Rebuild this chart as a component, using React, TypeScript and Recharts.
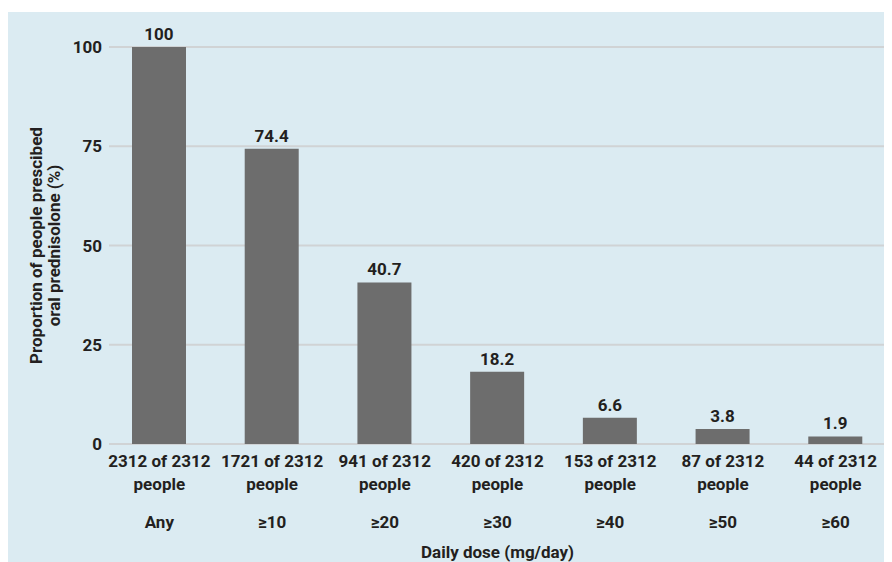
import React from 'react';
import { BarChart, Bar, XAxis, YAxis, CartesianGrid, LabelList, Label } from 'recharts';

const doses = ['Any', '≥10', '≥20', '≥30', '≥40', '≥50', '≥60'];
const counts = [2312, 1721, 941, 420, 153, 87, 44];
const totalPeople = 2312;
const percents = [100, 74.4, 40.7, 18.2, 6.6, 3.8, 1.9];
const yTicks = [0, 25, 50, 75, 100];

const data = doses.map((d, i) => ({ dose: d, count: counts[i], pct: percents[i] }));

const FONT = 'Roboto, "Open Sans", sans-serif';
const INK = '#231f20';
const FS = 17;

const DoseTick = (props: any) => {
  const { x, y, payload } = props;
  const i = doses.indexOf(payload.value);
  return (
    <g>
      <text x={x} y={y} textAnchor="middle" fontFamily={FONT} fontWeight={700} fontSize={FS} fill={INK}>
        <tspan x={x} dy={23}>{`${counts[i]} of ${totalPeople}`}</tspan>
        <tspan x={x} dy={23}>people</tspan>
        <tspan x={x} dy={38}>{payload.value}</tspan>
      </text>
    </g>
  );
};

const YTitle = (props: any) => {
  const vb = props.viewBox || {};
  const cx = 34;
  const cy = (vb.y || 0) + (vb.height || 0) / 2;
  return (
    <text
      x={cx}
      y={cy}
      textAnchor="middle"
      transform={`rotate(-90, ${cx}, ${cy})`}
      fontFamily={FONT}
      fontWeight={700}
      fontSize={FS}
      fill={INK}
    >
      <tspan x={cx} dy={0}>Proportion of people prescibed</tspan>
      <tspan x={cx} dy={18}>oral prednisolone (%)</tspan>
    </text>
  );
};

export default function App() {
  return (
    <div style={{ marginTop: 4, width: 884, height: 550, background: '#dbebf2' }}>
      <BarChart width={884} height={550} data={data} margin={{ top: 35, right: 6, left: 0, bottom: 0 }}>
        <CartesianGrid vertical={false} stroke="#d0d3d5" strokeWidth={2} />
        <XAxis
          dataKey="dose"
          height={118}
          interval={0}
          axisLine={false}
          tickLine={false}
          tickSize={0}
          tickMargin={0}
          padding={{ left: -6, right: -6 }}
          tick={<DoseTick />}
        >
          <Label
            value="Daily dose (mg/day)"
            position="insideBottom"
            offset={4}
            fontFamily={FONT}
            fontWeight={700}
            fontSize={FS}
            fill={INK}
          />
        </XAxis>
        <YAxis
          width={101}
          domain={[0, 100]}
          ticks={yTicks}
          axisLine={false}
          tickLine={false}
          tickSize={0}
          tickMargin={7}
          tick={{ fontFamily: FONT, fontWeight: 700, fontSize: FS, fill: INK }}
        >
          <Label content={<YTitle />} />
        </YAxis>
        <Bar dataKey="pct" fill="#6d6d6d" barSize={54} isAnimationActive={false}>
          <LabelList
            dataKey="pct"
            position="top"
            offset={7}
            fontFamily={FONT}
            fontWeight={700}
            fontSize={FS}
            fill={INK}
          />
        </Bar>
      </BarChart>
    </div>
  );
}
